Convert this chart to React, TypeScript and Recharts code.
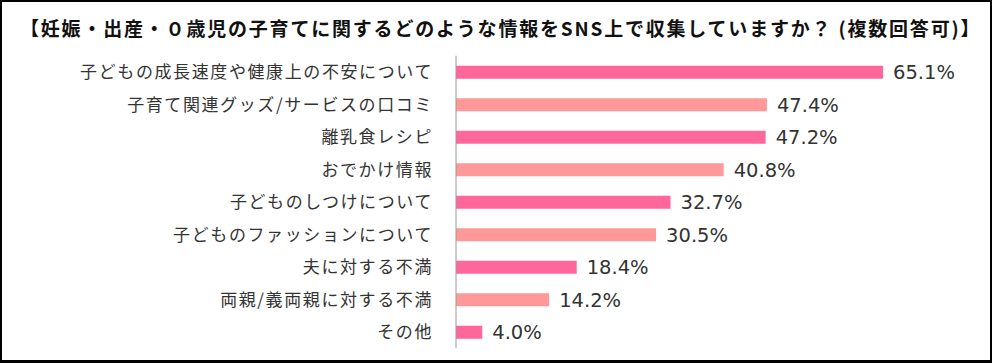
import React from "react";
import { BarChart, Bar, XAxis, YAxis, Cell, LabelList } from "recharts";

const categories = [
  "子どもの成長速度や健康上の不安について",
  "子育て関連グッズ/サービスの口コミ",
  "離乳食レシピ",
  "おでかけ情報",
  "子どものしつけについて",
  "子どものファッションについて",
  "夫に対する不満",
  "両親/義両親に対する不満",
  "その他",
];
const values = [65.1, 47.4, 47.2, 40.8, 32.7, 30.5, 18.4, 14.2, 4.0];
const colors = ["#FF6699", "#FF9999"];
const title = "【妊娠・出産・０歳児の子育てに関するどのような情報をSNS上で収集していますか？ (複数回答可)】";

const data = categories.map((name, i) => ({ name, value: values[i] }));

export default function App() {
  return (
    <div style={{ position: "fixed", left: 0, top: 0, width: 993, height: 364, background: "#fff" }}>
      <div
        style={{
          position: "absolute",
          left: 0,
          top: 0,
          width: 992,
          height: 363,
          boxSizing: "border-box",
          borderLeft: "2px solid #000",
          borderTop: "2px solid #000",
          borderRight: "2px solid #000",
          borderBottom: "3px solid #000",
        }}
      />
      <div
        style={{
          position: "absolute",
          left: 20,
          top: 15,
          height: 26,
          lineHeight: "26px",
          fontFamily: "'Noto Sans CJK JP', sans-serif",
          fontWeight: 700,
          fontSize: 19,
          letterSpacing: 1.8,
          color: "#111",
          whiteSpace: "pre",
        }}
      >
        {title}
      </div>
      <BarChart
        width={993}
        height={364}
        data={data}
        layout="vertical"
        margin={{ top: 55.75, bottom: 15.75, left: 0, right: 77.8 }}
      >
        <XAxis type="number" domain={[0, 70]} hide />
        <YAxis
          type="category"
          dataKey="name"
          width={456}
          axisLine={{ stroke: "#9a9a9a", strokeWidth: 1 }}
          tickLine={false}
          tickSize={0}
          tickMargin={23}
          tick={{
            fill: "#333",
            fontSize: 17,
            letterSpacing: 1.6,
            fontFamily: "'Noto Sans CJK JP', sans-serif",
          }}
          interval={0}
        />
        <Bar dataKey="value" barSize={13} isAnimationActive={false}>
          {data.map((d, i) => (
            <Cell key={d.name} fill={colors[i % 2]} />
          ))}
          <LabelList
            dataKey="value"
            position="right"
            offset={10}
            formatter={(v: number) => v.toFixed(1) + "%"}
            style={{ fill: "#333", fontSize: 19.5, fontFamily: "'DejaVu Sans', sans-serif" }}
          />
        </Bar>
      </BarChart>
    </div>
  );
}
